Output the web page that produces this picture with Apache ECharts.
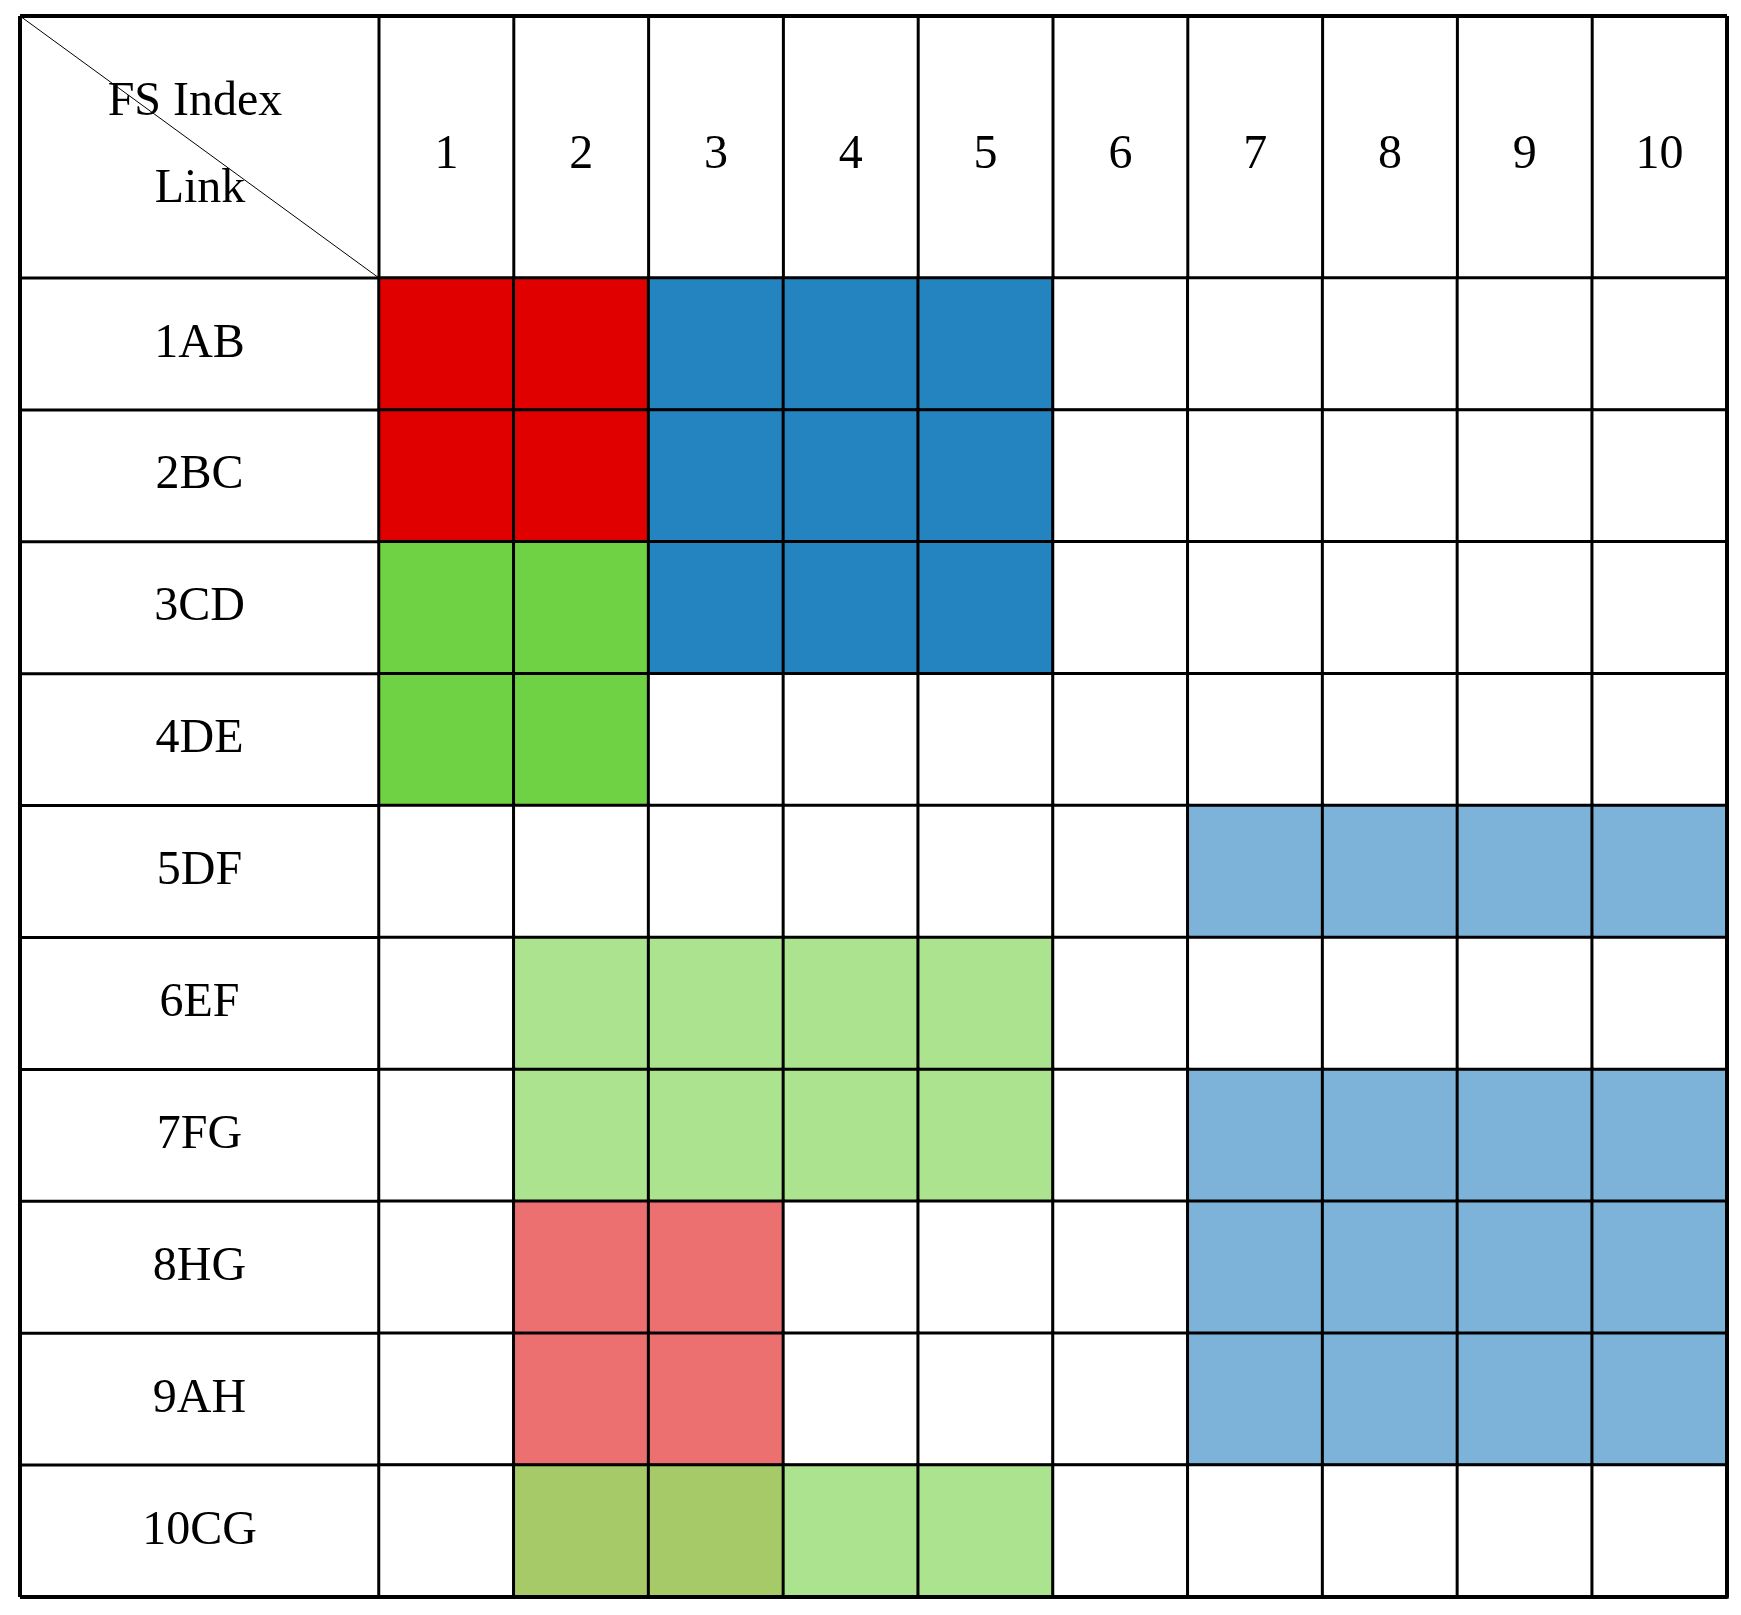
<!DOCTYPE html><html><head><meta charset="utf-8"><script src="https://cdn.jsdelivr.net/npm/echarts@6/dist/echarts.min.js"></script></head><body style="margin:0;background:#fff"><div id="c" style="width:1741px;height:1615px"></div><script>
const fsIndex=['1','2','3','4','5','6','7','8','9','10'];
const links=['1AB','2BC','3CD','4DE','5DF','6EF','7FG','8HG','9AH','10CG'];
const palette={0:'#ffffff',R:'#e00000',B:'#2484c0',G:'#6fd244',L:'#7eb3d9',g:'#abe38f',P:'#ec7070',O:'#a5ca67'};
const cells=[
'RRBBB00000','RRBBB00000','GGBBB00000','GG00000000','000000LLLL',
'0gggg00000','0gggg0LLLL','0PP000LLLL','0PP000LLLL','0OOgg00000'];
const L0=20,GL=379,R0=1727,T0=16,GT=278,B0=1597;
const cw=(R0-GL)/10,rh=(B0-GT)/10;
const data=[];
cells.forEach((row,i)=>row.split('').forEach((ch,j)=>data.push({value:[j,i,1],itemStyle:{color:palette[ch]}})));
const g=[];
const ln=(x1,y1,x2,y2,w)=>g.push({type:'line',shape:{x1,y1,x2,y2},style:{stroke:'#000',lineWidth:w},z:10});
ln(L0,T0,R0,T0,4);ln(L0,B0,R0,B0,4);ln(L0,T0,L0,B0,4);ln(R0,T0,R0,B0,4);
for(let k=0;k<=10;k++){ln(GL+k*cw,T0,GL+k*cw,GT,3);ln(L0,GT+k*rh,GL,GT+k*rh,3);}
ln(L0,T0,R0,T0,4);
g.push({type:'line',shape:{x1:L0,y1:T0,x2:GL,y2:GT},style:{stroke:'#000',lineWidth:1},z:10});
const font='"Liberation Serif","DejaVu Serif",serif';
g.push({type:'text',x:195,y:102,style:{text:'FS Index',font:'48px '+font,fill:'#000',textAlign:'center',textVerticalAlign:'middle'},z:11});
g.push({type:'text',x:200,y:189,style:{text:'Link',font:'48px '+font,fill:'#000',textAlign:'center',textVerticalAlign:'middle'},z:11});
const ch=echarts.init(document.getElementById('c'));
ch.setOption({animation:false,
grid:{left:GL,top:GT,width:R0-GL,height:B0-GT},
xAxis:{type:'category',data:fsIndex,position:'top',axisLine:{show:false},axisTick:{show:false},
 axisLabel:{margin:(GT-T0)/2-8,fontSize:48,fontFamily:font,color:'#000',verticalAlign:'middle',lineHeight:48}},
yAxis:{type:'category',data:links,inverse:true,axisLine:{show:false},axisTick:{show:false},
 axisLabel:{margin:(GL-L0)/2,align:'center',fontSize:48,fontFamily:font,color:'#000'}},
series:[{type:'heatmap',data,itemStyle:{borderColor:'#000',borderWidth:3}}],
graphic:g});
</script></body></html>
